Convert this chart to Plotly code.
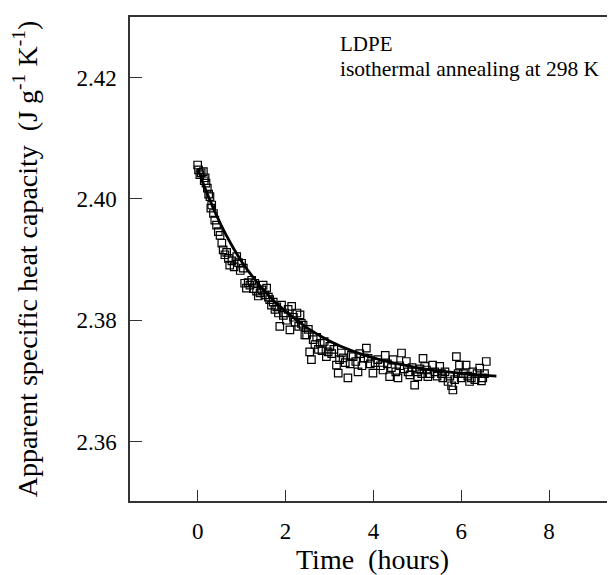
import plotly.graph_objects as go

# measured points (hours, J g-1 K-1)
t_meas = [0.00, 0.02, 0.05, 0.08, 0.13, 0.15, 0.17, 0.19, 0.22, 0.25, 0.28, 0.30, 0.32, 0.36, 0.39,
          0.43, 0.47, 0.51, 0.55, 0.58, 0.62, 0.66, 0.70, 0.73, 0.78, 0.83, 0.89, 0.93, 0.97, 1.00,
          1.04, 1.07, 1.11, 1.15, 1.19, 1.23, 1.27, 1.30, 1.34, 1.38, 1.42, 1.46, 1.49, 1.53, 1.57,
          1.61, 1.64, 1.68, 1.72, 1.76, 1.80, 1.84, 1.87, 1.91, 1.95, 1.98, 2.02, 2.06, 2.10, 2.14,
          2.18, 2.22, 2.26, 2.30, 2.33, 2.36, 2.40, 2.44, 2.48, 2.52, 2.55, 2.59, 2.63, 2.67, 2.71,
          2.75, 2.79, 2.83, 2.88, 2.93, 2.97, 3.01, 3.05, 3.10, 3.16, 3.20, 3.23, 3.27, 3.31, 3.36,
          3.42, 3.47, 3.50, 3.54, 3.60, 3.65, 3.69, 3.74, 3.79, 3.84, 3.88, 3.93, 3.99, 4.04, 4.10,
          4.16, 4.22, 4.27, 4.32, 4.37, 4.41, 4.45, 4.51, 4.56, 4.60, 4.64, 4.70, 4.75, 4.79, 4.83,
          4.88, 4.94, 4.98, 5.01, 5.06, 5.10, 5.13, 5.17, 5.21, 5.24, 5.29, 5.35, 5.40, 5.45, 5.51,
          5.55, 5.58, 5.63, 5.70, 5.74, 5.78, 5.81, 5.85, 5.89, 5.93, 5.96, 6.00, 6.05, 6.11, 6.15,
          6.19, 6.23, 6.26, 6.31, 6.36, 6.42, 6.46, 6.49, 6.53, 6.57]
cp_meas = [2.4056, 2.4048, 2.4040, 2.4043, 2.4045, 2.4030, 2.4035, 2.4026, 2.4018, 2.4008, 2.4004,
           2.3985, 2.3990, 2.3976, 2.3965, 2.3957, 2.3946, 2.3940, 2.3927, 2.3916, 2.3908, 2.3912,
           2.3902, 2.3891, 2.3898, 2.3888, 2.3905, 2.3895, 2.3882, 2.3894, 2.3886, 2.3861, 2.3853,
           2.3862, 2.3858, 2.3866, 2.3852, 2.3861, 2.3848, 2.3840, 2.3845, 2.3850, 2.3858, 2.3842,
           2.3853, 2.3838, 2.3834, 2.3825, 2.3830, 2.3818, 2.3822, 2.3812, 2.3790, 2.3825, 2.3808,
           2.3812, 2.3800, 2.3818, 2.3784, 2.3823, 2.3805, 2.3797, 2.3812, 2.3790, 2.3809, 2.3795,
           2.3792, 2.3776, 2.3776, 2.3785, 2.3748, 2.3735, 2.3768, 2.3760, 2.3772, 2.3752, 2.3762,
           2.3750, 2.3765, 2.3740, 2.3748, 2.3757, 2.3745, 2.3752, 2.3726, 2.3713, 2.3735, 2.3746,
           2.3738, 2.3730, 2.3705, 2.3728, 2.3742, 2.3740, 2.3732, 2.3715, 2.3745, 2.3725, 2.3738,
           2.3754, 2.3737, 2.3728, 2.3713, 2.3730, 2.3735, 2.3725, 2.3718, 2.3742, 2.3728, 2.3707,
           2.3722, 2.3735, 2.3715, 2.3705, 2.3725, 2.3746, 2.3720, 2.3732, 2.3715, 2.3710, 2.3722,
           2.3693, 2.3715, 2.3707, 2.3720, 2.3712, 2.3737, 2.3724, 2.3718, 2.3707, 2.3712, 2.3726,
           2.3715, 2.3708, 2.3724, 2.3712, 2.3705, 2.3715, 2.3699, 2.3708, 2.3692, 2.3685, 2.3702,
           2.3740, 2.3712, 2.3726, 2.3705, 2.3712, 2.3726, 2.3708, 2.3699, 2.3705, 2.3715, 2.3702,
           2.3712, 2.3721, 2.3700, 2.3705, 2.3712, 2.3732]

# fitted curve
t_fit = [0.0, 0.25, 0.5, 0.75, 1.0, 1.25, 1.5, 1.75, 2.0, 2.5, 3.0, 3.5, 4.0, 4.5, 5.0, 5.5, 6.0, 6.5, 6.8]
cp_fit = [2.4050, 2.4003, 2.3962, 2.3927, 2.3897, 2.3872, 2.3850, 2.3831, 2.3815, 2.3787, 2.3766,
          2.3750, 2.3738, 2.3729, 2.3722, 2.3716, 2.3713, 2.3709, 2.3708]

x_ticks = [0, 2, 4, 6, 8]
y_ticks = [2.36, 2.38, 2.40, 2.42]

font = "Liberation Serif, Times New Roman, serif"

fig = go.Figure()
fig.add_trace(go.Scatter(x=t_meas, y=cp_meas, mode="markers",
                         marker=dict(symbol="square-open", size=7.5, color="black",
                                     line=dict(width=1.2, color="black"))))
fig.add_trace(go.Scatter(x=t_fit, y=cp_fit, mode="lines",
                         line=dict(color="black", width=2.8, shape="spline")))

fig.add_annotation(x=3.19, y=2.4255, text="LDPE", showarrow=False, xanchor="left",
                   font=dict(family=font, size=21, color="black"))
fig.add_annotation(x=3.19, y=2.4214, text="isothermal annealing at 298 K", showarrow=False,
                   xanchor="left", font=dict(family=font, size=21.5, color="black"))

# page body adds ~8px offset, so the figure is sized/margined to compensate
fig.update_layout(
    width=607, height=567,
    margin=dict(l=122, r=0, t=9, b=74),
    plot_bgcolor="white", paper_bgcolor="white",
    showlegend=False,
    font=dict(family=font, color="black"),
    xaxis=dict(range=[-1.54, 9.5], tickvals=x_ticks, ticktext=[str(v) for v in x_ticks],
               ticks="inside", ticklen=11, tickwidth=1.3, tickcolor="#333",
               showline=True, linecolor="#333", linewidth=1.5, mirror=True,
               showgrid=False, zeroline=False, tickfont=dict(size=23), ticklabelstandoff=9,
               title=dict(text="Time  (hours)", font=dict(size=28), standoff=2)),
    yaxis=dict(range=[2.3502, 2.4300], tickvals=y_ticks, ticktext=["%.2f" % v for v in y_ticks],
               ticks="inside", ticklen=12, tickwidth=1.3, tickcolor="#333",
               showline=True, linecolor="#333", linewidth=1.5, mirror=False,
               showgrid=False, zeroline=False, tickfont=dict(size=23), ticklabelstandoff=7,
               title=dict(text="Apparent specific heat capacity  (J g<sup>-1</sup> K<sup>-1</sup>)",
                          font=dict(size=28), standoff=34)),
)

fig.write_html("out.html")
